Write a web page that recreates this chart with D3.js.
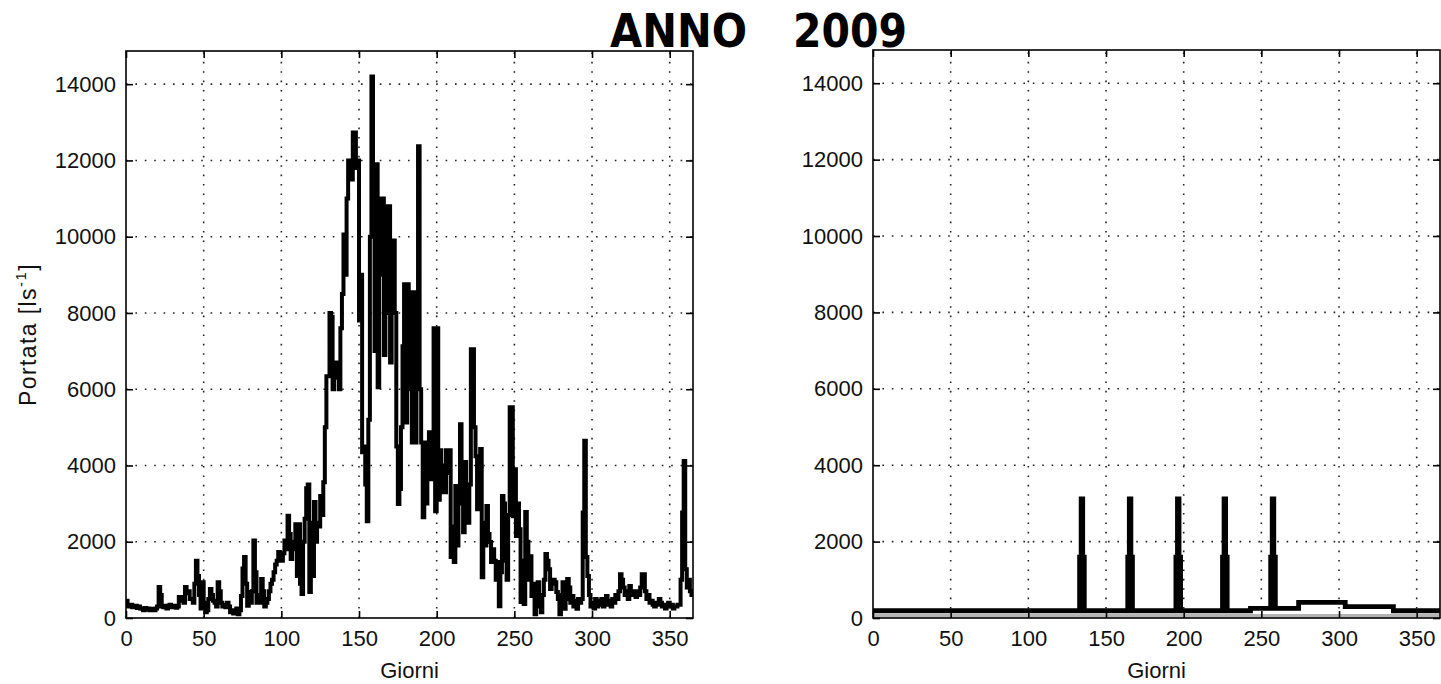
<!DOCTYPE html>
<html><head><meta charset="utf-8">
<script src="https://cdn.jsdelivr.net/npm/d3@7"></script>
<style>body{margin:0;background:#fff} svg{display:block}</style>
</head><body>
<svg id="chart" width="1441" height="684"></svg>
<script>
const titleWords = ["ANNO", "2009"];
const xLabel = "Giorni";
const yLabelMain = "Portata [ls";
const yLabelSup = "-1";
const xTicks = [0, 50, 100, 150, 200, 250, 300, 350];
const yTicks = [0, 2000, 4000, 6000, 8000, 10000, 12000, 14000];

// Left panel: daily discharge (day 0..364)
const leftFlow = [
  450, 320, 300, 350, 280, 300, 320, 260, 300, 250,
  240, 200, 260, 220, 250, 200, 230, 240, 200, 250,
  300, 810, 600, 300, 280, 320, 250, 300, 350, 280,
  300, 320, 270, 300, 550, 450, 550, 400, 810, 650,
  700, 500, 500, 400, 900, 1500, 1100, 600, 250, 940,
  400, 150, 200, 500, 760, 600, 450, 400, 300, 940,
  700, 400, 300, 350, 280, 400, 300, 150, 200, 120,
  150, 250, 100, 200, 580, 1300, 1600, 900, 320, 680,
  400, 700, 2030, 1200, 400, 600, 400, 1020, 700, 300,
  400, 500, 700, 900, 1000, 1200, 1400, 1500, 1730, 1600,
  1500, 1700, 2030, 1800, 2680, 2200, 1550, 2000, 1800, 2460,
  1100, 2460, 900, 630, 2000, 2600, 3400, 3500, 680, 2500,
  1100, 3040, 2000, 2500, 2400, 3200, 2700, 3560, 5000, 6340,
  6340, 8000, 7900, 6000, 6700, 6300, 6700, 6000, 7600, 8500,
  10060, 9000, 11000, 12000, 12000, 11500, 12730, 12730, 11800, 12000,
  7800, 9000, 4350, 4500, 3500, 2540, 5200, 10000, 14200, 11900,
  7000, 11900, 6050, 11000, 9000, 11000, 6900, 10800, 8000, 10800,
  6700, 9900, 9900, 8000, 4500, 2990, 3380, 5000, 7130, 8750,
  5130, 8750, 6000, 8540, 4600, 8540, 4600, 8200, 12370, 6000,
  4600, 2640, 4600, 3000, 4200, 4870, 3640, 4500, 7600, 2800,
  7600, 3100, 4400, 3300, 4000, 3300, 4400, 3800, 4400, 1600,
  2400, 1470, 3460, 1900, 3000, 5080, 4000, 2250, 4090, 3000,
  2500, 3500, 7050, 7050, 5000, 4240, 2850, 3300, 4430, 1070,
  2500, 1900, 2940, 2200, 1990, 1470, 1800, 1500, 1000, 1470,
  310, 1200, 3200, 3000, 1500, 1000, 2700, 5530, 5530, 2670,
  3900, 2150, 3000, 2330, 420, 1500, 370, 2780, 2000, 1000,
  1620, 580, 900, 100, 500, 940, 300, 150, 600, 1000,
  1680, 1500, 1280, 760, 900, 1000, 940, 680, 500, 100,
  600, 940, 240, 500, 1020, 800, 400, 580, 300, 450,
  240, 500, 400, 500, 2770, 4650, 1600, 1100, 600, 300,
  400, 250, 500, 300, 450, 350, 500, 300, 400, 580,
  350, 450, 300, 500, 400, 600, 500, 700, 1150, 1000,
  800, 600, 700, 500, 840, 600, 700, 600, 550, 700,
  600, 800, 1150, 1150, 700, 500, 600, 400, 450, 350,
  300, 400, 350, 500, 400, 300, 350, 250, 300, 400,
  300, 350, 250, 300, 300, 350, 350, 1000, 2770, 4120,
  1280, 800, 1000, 700, 600
];

// Right panel: step series (day where value changes, new value)
const rightDays = [0, 133, 134, 135, 136, 164, 165, 166, 167, 195, 196, 197, 198,
  225, 226, 227, 228, 243, 256, 257, 258, 259, 274, 304, 335, 365];
const rightFlow = [190, 1590, 3120, 1590, 190, 1590, 3120, 1590, 190, 1590, 3120, 1590, 190,
  1590, 3120, 1590, 190, 254, 1590, 3120, 1590, 254, 410, 296, 190, 190];
const rightRefDays = [0, 365];
const rightRefFlow = [60, 60];

const svg = d3.select("#chart");
const font = "'Liberation Sans', Arial, sans-serif";

const panels = [
  {x0: 126, x1: 693, y0: 51, y1: 618, ylabel: true},
  {x0: 873, x1: 1440, y0: 50, y1: 618, ylabel: false}
];

panels.forEach((p, idx) => {
  const x = d3.scaleLinear().domain([0, 365]).range([p.x0, p.x1]);
  const y = d3.scaleLinear().domain([0, 14870]).range([p.y1, p.y0]);
  const g = svg.append("g");
  const clipId = "clip" + idx;
  svg.append("clipPath").attr("id", clipId).append("rect")
    .attr("x", p.x0).attr("y", p.y0).attr("width", p.x1 - p.x0).attr("height", p.y1 - p.y0);

  // grid
  const grid = g.append("g").attr("stroke", "#222").attr("stroke-width", 1.6)
    .attr("stroke-dasharray", "1.6 7.8");
  xTicks.filter(t => t > 0).forEach(t => {
    grid.append("line").attr("x1", x(t)).attr("x2", x(t)).attr("y1", p.y1).attr("y2", p.y0);
  });
  yTicks.filter(t => t > 0).forEach(t => {
    grid.append("line").attr("x1", p.x0).attr("x2", p.x1).attr("y1", y(t)).attr("y2", y(t));
  });

  const line = d3.line().x(d => x(d[0])).y(d => y(d[1])).curve(d3.curveStepAfter);
  if (idx === 0) {
    const pts = leftFlow.map((v, i) => [i, v]);
    pts.push([365, leftFlow[leftFlow.length - 1]]);
    g.append("path").datum(pts).attr("clip-path", `url(#${clipId})`)
      .attr("d", line).attr("fill", "none").attr("stroke", "#000").attr("stroke-width", 4);
  } else {
    const ref = rightRefDays.map((d, i) => [d, rightRefFlow[i]]);
    g.append("path").datum(ref).attr("clip-path", `url(#${clipId})`)
      .attr("d", line).attr("fill", "none").attr("stroke", "#b4b4b4").attr("stroke-width", 3.5);
    const pts = rightDays.map((d, i) => [d, rightFlow[i]]);
    g.append("path").datum(pts).attr("clip-path", `url(#${clipId})`)
      .attr("d", line).attr("fill", "none").attr("stroke", "#000").attr("stroke-width", 4.8);
  }

  // axes (ticks inside)
  const fmt = d3.format("d");
  const ax = g.append("g").attr("transform", `translate(0,${p.y1})`)
    .call(d3.axisBottom(x).tickValues(xTicks).tickFormat(fmt).tickSizeInner(-7).tickSizeOuter(0).tickPadding(12));
  const ay = g.append("g").attr("transform", `translate(${p.x0},0)`)
    .call(d3.axisLeft(y).tickValues(yTicks).tickFormat(fmt).tickSizeInner(-7).tickSizeOuter(0).tickPadding(10));
  const at = g.append("g").attr("transform", `translate(0,${p.y0})`)
    .call(d3.axisTop(x).tickValues(xTicks).tickFormat("").tickSizeInner(-7).tickSizeOuter(0));
  const ar = g.append("g").attr("transform", `translate(${p.x1},0)`)
    .call(d3.axisRight(y).tickValues(yTicks).tickFormat("").tickSizeInner(-7).tickSizeOuter(0));
  [ax, ay, at, ar].forEach(a => {
    a.select(".domain").remove();
    a.selectAll(".tick line").attr("stroke", "#000").attr("stroke-width", 1.6);
    a.selectAll("text").attr("font-family", font).attr("font-size", 22).attr("fill", "#111");
  });

  // frame
  g.append("rect").attr("x", p.x0).attr("y", p.y0).attr("width", p.x1 - p.x0).attr("height", p.y1 - p.y0)
    .attr("fill", "none").attr("stroke", "#000").attr("stroke-width", 1.6);

  // x label
  g.append("text").attr("x", (p.x0 + p.x1) / 2).attr("y", 678).attr("text-anchor", "middle")
    .attr("font-family", font).attr("font-size", 22).attr("fill", "#111").text(xLabel);

  if (p.ylabel) {
    const t = g.append("text").attr("transform", `translate(36,${(p.y0 + p.y1) / 2}) rotate(-90)`)
      .attr("text-anchor", "middle").attr("font-family", font).attr("font-size", 23)
      .attr("letter-spacing", 1.4).attr("fill", "#111");
    t.append("tspan").text(yLabelMain);
    t.append("tspan").attr("font-size", 15).attr("dy", -10).text(yLabelSup);
    t.append("tspan").attr("dy", 10).text("]");
  }
});

// title
const title = svg.append("text").attr("y", 47).attr("font-family", "'Comic Sans MS', 'DejaVu Sans', sans-serif")
  .attr("font-weight", "bold").attr("font-size", 46).attr("fill", "#000");
title.append("tspan").attr("x", 610).attr("textLength", 137).attr("lengthAdjust", "spacingAndGlyphs").text(titleWords[0]);
title.append("tspan").attr("x", 793).attr("textLength", 114).attr("lengthAdjust", "spacingAndGlyphs").text(titleWords[1]);
</script>
</body></html>
